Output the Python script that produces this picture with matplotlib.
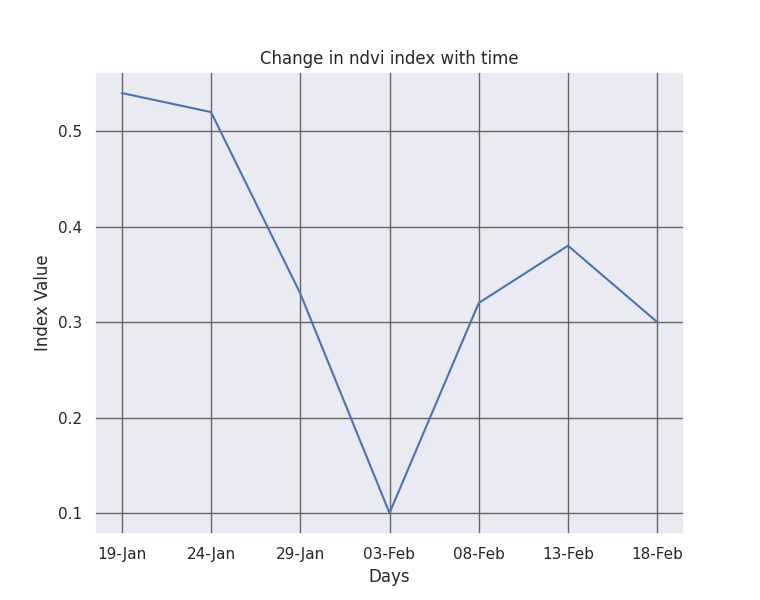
import matplotlib
matplotlib.use("Agg")
import matplotlib.pyplot as plt
import seaborn as sns

days = ["19-Jan", "24-Jan", "29-Jan", "03-Feb", "08-Feb", "13-Feb", "18-Feb"]
ndvi = [0.54, 0.52, 0.33, 0.10, 0.32, 0.38, 0.30]

sns.set_theme(style="darkgrid")
plt.rcParams['font.family'] = ['DejaVu Sans']

fig, ax = plt.subplots(figsize=(7.6, 6), dpi=100)
ax.plot(days, ndvi, color="#4c72b0", linewidth=1.5)
ax.grid(True, color="#666666", linewidth=1.0)
ax.set_yticks([0.1, 0.2, 0.3, 0.4, 0.5])
ax.set_title("Change in ndvi index with time")
ax.set_xlabel("Days")
ax.set_ylabel("Index Value")
fig.savefig("out.png", dpi=100)
